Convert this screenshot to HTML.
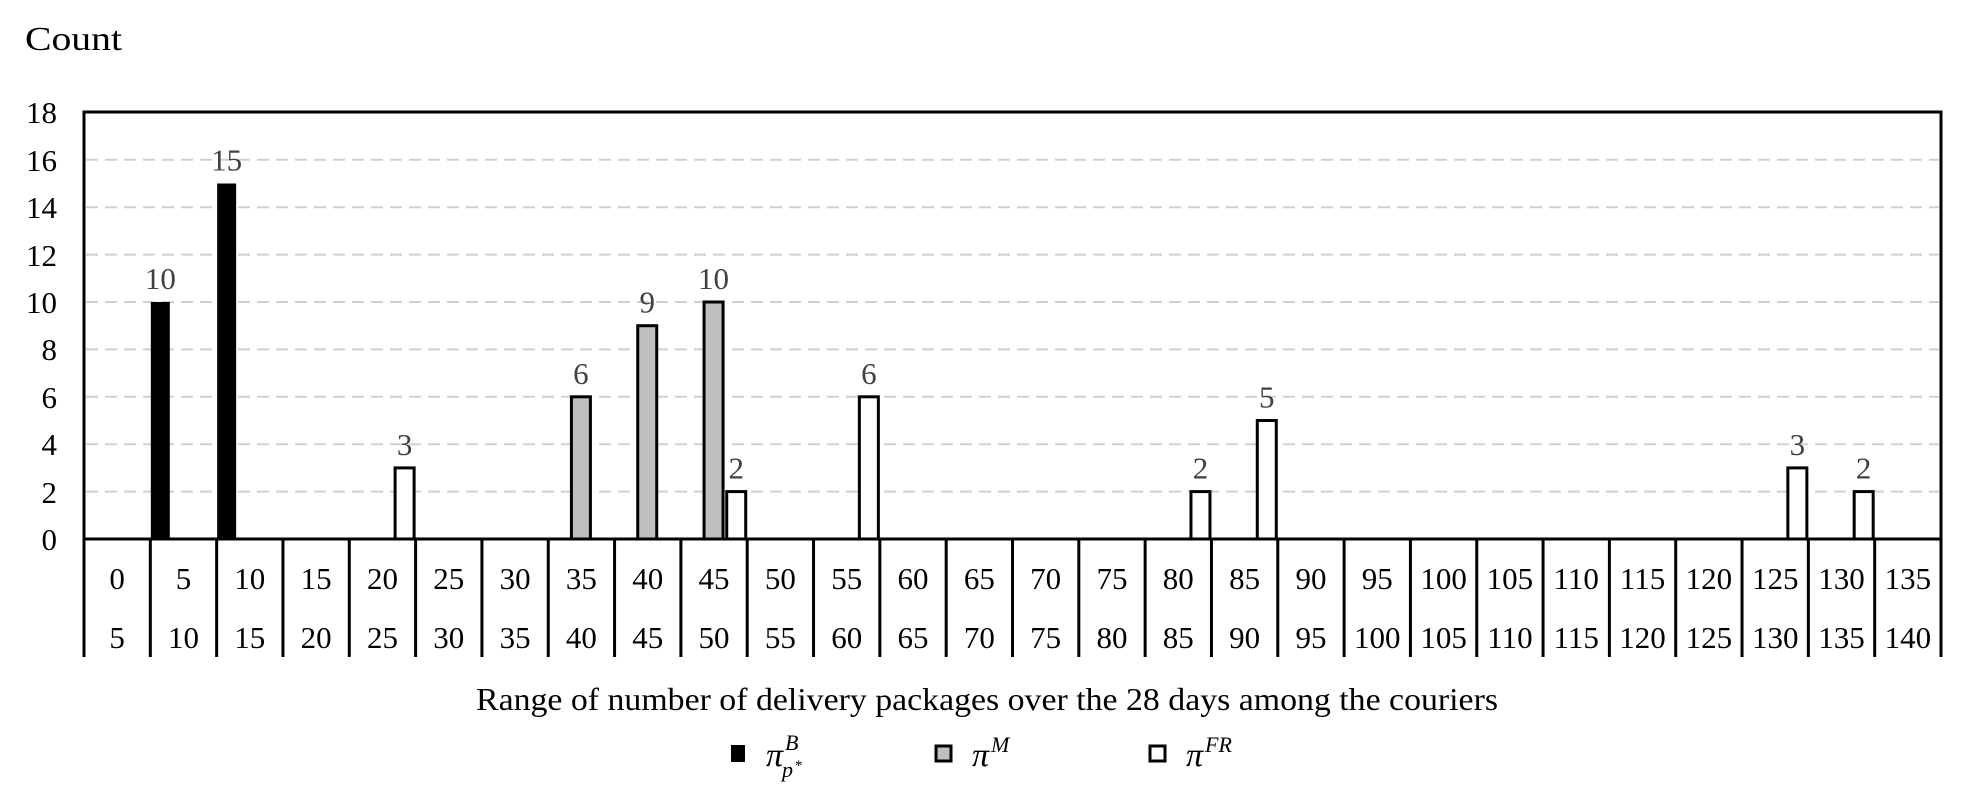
<!DOCTYPE html>
<html><head><meta charset="utf-8"><style>
html,body{margin:0;padding:0;background:#fff}
svg{display:block}
text{font-family:"Liberation Serif","DejaVu Serif",serif}
</style></head><body>
<svg width="1973" height="793" viewBox="0 0 1973 793" xmlns="http://www.w3.org/2000/svg">
<text x="25" y="50" font-size="34" textLength="97" lengthAdjust="spacingAndGlyphs">Count</text>
<g stroke="#d0d0d0" stroke-width="2" stroke-dasharray="12,7">
<line x1="86" x2="1939" y1="491.6" y2="491.6"/>
<line x1="86" x2="1939" y1="444.2" y2="444.2"/>
<line x1="86" x2="1939" y1="396.8" y2="396.8"/>
<line x1="86" x2="1939" y1="349.4" y2="349.4"/>
<line x1="86" x2="1939" y1="302" y2="302"/>
<line x1="86" x2="1939" y1="254.6" y2="254.6"/>
<line x1="86" x2="1939" y1="207.2" y2="207.2"/>
<line x1="86" x2="1939" y1="159.8" y2="159.8"/>
</g>
<g font-size="31" text-anchor="end">
<text x="57" y="550">0</text><text x="57" y="503">2</text><text x="57" y="455">4</text><text x="57" y="408">6</text><text x="57" y="360">8</text><text x="57" y="313">10</text><text x="57" y="266">12</text><text x="57" y="218">14</text><text x="57" y="171">16</text><text x="57" y="123">18</text>
</g>
<g id="bars" stroke="#000" stroke-width="3"></g>
<g id="labels" font-size="31" fill="#404040" text-anchor="middle"></g>
<rect x="84" y="112" width="1857" height="427" fill="none" stroke="#000" stroke-width="3"/>
<g id="cats" font-size="31" text-anchor="middle"></g>
<text x="987" y="710" font-size="32" text-anchor="middle" textLength="1022" lengthAdjust="spacingAndGlyphs">Range of number of delivery packages over the 28 days among the couriers</text>
<rect x="731" y="745" width="14" height="17" fill="#000"/>
<text x="766" y="766" font-size="34" font-style="italic">π</text><text x="785" y="750" font-size="22" font-style="italic">B</text><text x="782" y="777" font-size="22" font-style="italic">p</text><text x="795" y="770" font-size="15">*</text>
<rect x="936" y="746" width="15" height="15" fill="#bfbfbf" stroke="#000" stroke-width="3"/>
<text x="972" y="766" font-size="34" font-style="italic">π</text><text x="991" y="752" font-size="22" font-style="italic">M</text>
<rect x="1150" y="746" width="15" height="15" fill="#fff" stroke="#000" stroke-width="3"/>
<text x="1186" y="766" font-size="34" font-style="italic">π</text><text x="1205" y="752" font-size="22" font-style="italic">FR</text>
</svg>
<script>
var ns="http://www.w3.org/2000/svg",L=84,C=1857/28,Y0=539,U=23.7;
var bars=[[0,1,10],[0,2,15],[1,7,6],[1,8,9],[1,9,10],[2,4,3],[2,9,2],[2,11,6],[2,16,2],[2,17,5],[2,25,3],[2,26,2]];
var fills=["#000","#bfbfbf","#fff"],offs=[0.5,(C-20)/2,C-20.5];
var bg=document.getElementById("bars"),lg=document.getElementById("labels"),cg=document.getElementById("cats");
bars.forEach(function(b){var x=L+b[1]*C+offs[b[0]],h=b[2]*U,r=document.createElementNS(ns,"rect");
r.setAttribute("x",x);r.setAttribute("y",Y0-h);r.setAttribute("width",19);r.setAttribute("height",h);r.setAttribute("fill",fills[b[0]]);
if(b[0]==0)r.setAttribute("stroke","none");bg.appendChild(r);
var t=document.createElementNS(ns,"text");t.setAttribute("x",x+9.5);t.setAttribute("y",Y0-h-13);t.textContent=b[2];lg.appendChild(t);});
for(var i=0;i<=28;i++){var l=document.createElementNS(ns,"line"),x=L+i*C;l.setAttribute("x1",x);l.setAttribute("x2",x);l.setAttribute("y1",539);l.setAttribute("y2",657);l.setAttribute("stroke","#000");l.setAttribute("stroke-width",3);cg.appendChild(l);
if(i<28){[[i*5,589],[i*5+5,648]].forEach(function(p){var t=document.createElementNS(ns,"text");t.setAttribute("x",x+C/2);t.setAttribute("y",p[1]);t.textContent=p[0];cg.appendChild(t);});}}
</script>
</body></html>
